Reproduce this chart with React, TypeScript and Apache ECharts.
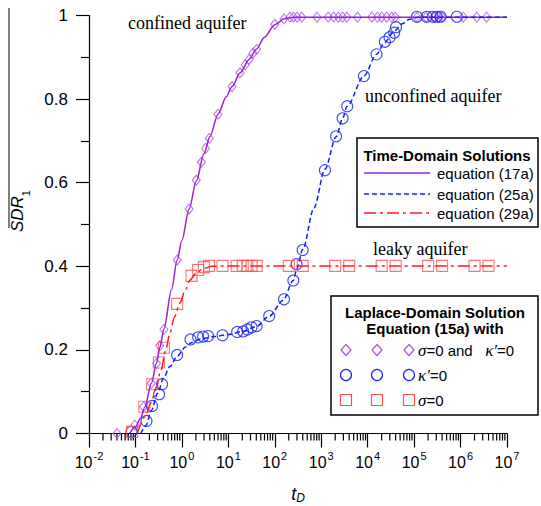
import React, { useEffect, useRef } from "react";
import * as echarts from "echarts";

// ---------- data (t_D, SDR1) ----------
const xExtent = [0.01, 1e7];
const yTicks = [0, 0.2, 0.4, 0.6, 0.8, 1];

// Time-domain solutions (curves)
const confinedLine: number[][] = [
  [0.075, 0], [0.1, 0.016], [0.13, 0.037], [0.158, 0.062], [0.22, 0.12], [0.284, 0.168],
  [0.334, 0.205], [0.41, 0.25], [0.6, 0.345], [0.79, 0.415], [1.0, 0.462], [1.43, 0.537],
  [2.04, 0.604], [3.0, 0.67], [4.0, 0.71], [6.0, 0.764], [9, 0.805], [12, 0.83], [18, 0.863],
  [28, 0.895], [40, 0.919], [60, 0.948], [100, 0.978], [160, 0.992], [250, 0.996], [1e7, 0.996],
];
const unconfinedLine: number[][] = [
  [0.13, 0], [0.17, 0.02], [0.22, 0.055], [0.3, 0.096], [0.4, 0.132], [0.55, 0.16], [0.79, 0.185],
  [1.2, 0.207], [1.6, 0.217], [2.5, 0.226], [5, 0.232], [10, 0.237], [20, 0.244], [40, 0.256],
  [75, 0.28], [150, 0.318], [250, 0.366], [300, 0.395], [400, 0.44], [700, 0.54], [1200, 0.632],
  [2100, 0.71], [2900, 0.754], [3600, 0.783], [8300, 0.855], [15500, 0.907], [23000, 0.935],
  [37000, 0.962], [55000, 0.98], [80000, 0.991], [120000, 0.996], [1e7, 0.996],
];
const leakyLine: number[][] = [
  [0.11, 0], [0.16, 0.04], [0.22, 0.075], [0.28, 0.11], [0.35, 0.15], [0.45, 0.2], [0.55, 0.24],
  [0.7, 0.28], [0.9, 0.312], [1.2, 0.345], [1.5, 0.367], [2, 0.383], [2.9, 0.395], [4.5, 0.4],
  [8, 0.401], [1e7, 0.401],
];

// Laplace-domain solution (markers)
const confinedPts: number[][] = [
  [0.04, 0.0], [0.097, 0.02], [0.15, 0.064], [0.22, 0.12], [0.284, 0.168], [0.334, 0.21],
  [0.41, 0.249], [0.79, 0.415], [1.43, 0.537], [2.04, 0.606], [2.63, 0.649], [3.24, 0.682],
  [3.89, 0.706], [6.0, 0.764], [12, 0.83], [17.8, 0.863], [23, 0.882], [28, 0.895], [34, 0.91],
  [40.7, 0.919], [100, 0.979], [158, 0.992], [214, 0.996], [251, 0.996], [302, 0.996],
  [380, 0.996], [813, 0.996], [1413, 0.996], [1862, 0.996], [2344, 0.996], [2884, 0.996],
  [3548, 0.996], [6026, 0.996], [12303, 0.996], [16218, 0.996], [19953, 0.996], [25704, 0.996],
  [33113, 0.996], [38905, 0.996], [114815, 0.996], [181970, 0.996], [263027, 0.996],
  [331131, 0.996], [398107, 0.996], [1148154, 0.996], [2238721, 0.996], [3630781, 0.996],
];
const unconfinedPts: number[][] = [
  [0.082, 0.004], [0.173, 0.03], [0.228, 0.066], [0.323, 0.094], [0.374, 0.118], [0.79, 0.188],
  [1.53, 0.225], [2.24, 0.23], [2.86, 0.232], [3.67, 0.233], [7.5, 0.235], [15.5, 0.243],
  [20.9, 0.244], [25.7, 0.249], [31.6, 0.254], [40.7, 0.257], [75.9, 0.281], [158, 0.321],
  [251, 0.366], [295, 0.405], [398, 0.439], [1202, 0.63], [2089, 0.711], [2884, 0.754],
  [3631, 0.783], [8318, 0.855], [15488, 0.907], [23442, 0.937], [29512, 0.948], [37154, 0.959],
  [40738, 0.972], [114815, 0.997], [186209, 0.997], [251189, 0.997], [309030, 0.997],
  [371535, 0.997], [831764, 0.997],
];
const leakyPts: number[][] = [
  [0.085, 0.004], [0.155, 0.064], [0.23, 0.118], [0.32, 0.17], [0.41, 0.205], [0.79, 0.31],
  [1.61, 0.377], [2.24, 0.391], [2.97, 0.398], [3.85, 0.401], [7.5, 0.401], [15.1, 0.401],
  [20.4, 0.401], [25.7, 0.401], [31.6, 0.401], [40.7, 0.401], [200, 0.401], [400, 0.401],
  [2000, 0.401], [4000, 0.401], [20000, 0.401], [40000, 0.401], [200000, 0.401],
  [400000, 0.401], [2000000, 0.401], [4000000, 0.401],
];

const legend1Labels = ["equation (17a)", "equation (25a)", "equation (29a)"];

// ---------- styling ----------
const PURPLE = "#9A1FD6";
const PURPLE_M = "#B050E8";
const BLUE = "#1020F5";
const RED = "#FF1A1A";
const RED_M = "#FF5050";
const SANS = '"Liberation Sans", Arial, sans-serif';
const SERIF = '"Liberation Serif", "Times New Roman", serif';

const minorTicks: number[][] = [];
for (let e = -2; e < 7; e++) {
  for (let m = 2; m <= 9; m++) minorTicks.push([m * Math.pow(10, e), 0]);
}

export default function App() {
  const ref = useRef<HTMLDivElement>(null);

  useEffect(() => {
    if (!ref.current) return;
    const chart = echarts.init(ref.current, undefined, { renderer: "svg" });

    const hollow = (c: string) => ({ color: "rgba(255,255,255,0)", borderColor: c, borderWidth: 1.1 });

    const legendText = (x: number, y: number, text: string, extra: any = {}) => ({
      type: "text",
      x,
      y,
      style: { text, font: `15px ${SANS}`, fill: "#000", align: "left", verticalAlign: "middle", ...extra },
    });

    const diamond = (cx: number, cy: number) => ({
      type: "polygon",
      shape: { points: [[cx, cy - 5.5], [cx + 5, cy], [cx, cy + 5.5], [cx - 5, cy]] },
      style: { fill: "none", stroke: PURPLE_M, lineWidth: 1.2 },
    });
    const circ = (cx: number, cy: number) => ({
      type: "circle",
      shape: { cx, cy, r: 5.5 },
      style: { fill: "none", stroke: BLUE, lineWidth: 1.2 },
    });
    const sq = (cx: number, cy: number) => ({
      type: "rect",
      shape: { x: cx - 5.5, y: cy - 5.5, width: 11, height: 11 },
      style: { fill: "none", stroke: RED_M, lineWidth: 1.2 },
    });

    const rowXs = [346, 377, 409];
    const richRow = {
      i: { fontFamily: SERIF, fontStyle: "italic", fontSize: 17, fill: "#000" },
      n: { fontFamily: SANS, fontSize: 15, fill: "#000" },
    };

    chart.setOption({
      animation: false,
      backgroundColor: "#fff",
      grid: { left: 89, right: 34, top: 15.5, bottom: 72.5, containLabel: false, outerBoundsMode: "none" },
      xAxis: {
        type: "log",
        logBase: 10,
        min: xExtent[0],
        max: xExtent[1],
        splitNumber: 9,
        name: "{t|t}{d|D}",
        nameLocation: "middle",
        nameGap: 51,
        nameTextStyle: {
          rich: {
            t: { fontFamily: SANS, fontStyle: "italic", fontSize: 18, color: "#000", lineHeight: 19, verticalAlign: "top" },
            d: { fontFamily: SANS, fontStyle: "italic", fontSize: 12, color: "#000", lineHeight: 19, verticalAlign: "bottom" },
          },
        },
        axisLine: { show: true, lineStyle: { color: "#000", width: 1.2 } },
        axisTick: { show: true, inside: false, length: 14, lineStyle: { color: "#000", width: 1.2 } },
        minorTick: { show: false },
        splitLine: { show: false },
        axisLabel: {
          margin: 17,
          formatter: (v: number) => `{b|10}{s|${Math.round(Math.log10(v))}}`,
          rich: {
            b: { fontFamily: SANS, fontSize: 16, color: "#000", lineHeight: 20, verticalAlign: "bottom" },
            s: { fontFamily: SANS, fontSize: 11, color: "#000", lineHeight: 20, verticalAlign: "top", padding: [0, 0, 0, 1] },
          },
        },
      },
      yAxis: {
        type: "value",
        min: 0,
        max: 1,
        interval: 0.2,
        axisLine: { show: true, lineStyle: { color: "#000", width: 1.2 } },
        axisTick: { show: true, inside: false, length: 13, lineStyle: { color: "#000", width: 1.2 } },
        minorTick: { show: true, splitNumber: 2, length: 8, lineStyle: { color: "#000", width: 1.2 } },
        splitLine: { show: false },
        axisLabel: {
          margin: 21,
          fontFamily: SANS,
          fontSize: 17,
          color: "#000",
          formatter: (v: number) => (yTicks.includes(v) && (v === 0 || v === 1) ? String(v) : v.toFixed(1)),
        },
      },
      series: [
        {
          type: "custom",
          silent: true,
          clip: false,
          data: minorTicks,
          renderItem: (_p: any, api: any) => {
            const pt = api.coord([api.value(0), 0]);
            return {
              type: "line",
              shape: { x1: pt[0], y1: pt[1], x2: pt[0], y2: pt[1] + 7 },
              style: { stroke: "#000", lineWidth: 1.2 },
            };
          },
          z: 1,
        },
        { type: "scatter", data: confinedPts, symbol: "diamond", symbolSize: [8, 10], itemStyle: hollow(PURPLE_M), z: 2 },
        { type: "scatter", data: unconfinedPts, symbol: "circle", symbolSize: 11, itemStyle: hollow(BLUE), z: 2 },
        { type: "scatter", data: leakyPts, symbol: "rect", symbolSize: 11, itemStyle: hollow(RED_M), z: 2 },
        {
          type: "line", data: confinedLine, showSymbol: false, symbol: "none", smooth: 0.3, smoothMonotone: "x",
          lineStyle: { color: PURPLE, width: 1.5 }, z: 3,
        },
        {
          type: "line", data: unconfinedLine, showSymbol: false, symbol: "none", smooth: 0.3, smoothMonotone: "x",
          lineStyle: { color: BLUE, width: 1.5, type: [5, 3] }, z: 3,
        },
        {
          type: "line", data: leakyLine, showSymbol: false, symbol: "none", smooth: 0.3, smoothMonotone: "x",
          lineStyle: { color: RED, width: 1.5, type: [12, 4, 3, 4] }, z: 3,
        },
      ],
      graphic: [
        // y-axis title with overline
        { type: "line", shape: { x1: 9, y1: 8, x2: 9, y2: 228 }, style: { stroke: "#000", lineWidth: 1 } },
        {
          type: "text",
          x: 20,
          y: 211,
          rotation: Math.PI / 2,
          style: {
            text: "{m|SDR}{s|1}",
            align: "center",
            verticalAlign: "middle",
            rich: {
              m: { fontFamily: SANS, fontStyle: "italic", fontSize: 17, fill: "#000", lineHeight: 22, verticalAlign: "top" },
              s: { fontFamily: SANS, fontSize: 11, fill: "#000", lineHeight: 22, verticalAlign: "bottom" },
            },
          },
        },
        // annotations
        { type: "text", x: 128, y: 23, style: { text: "confined aquifer", font: `18px ${SERIF}`, fill: "#000", align: "left", verticalAlign: "middle" } },
        { type: "text", x: 365, y: 96, style: { text: "unconfined aquifer", font: `18px ${SERIF}`, fill: "#000", align: "left", verticalAlign: "middle" } },
        { type: "text", x: 373, y: 249, style: { text: "leaky aquifer", font: `18px ${SERIF}`, fill: "#000", align: "left", verticalAlign: "middle" } },
        // legend 1
        { type: "rect", shape: { x: 357, y: 138, width: 181, height: 89 }, style: { fill: "#fff", stroke: "#000", lineWidth: 1.5 }, z: 10 },
        { ...legendText(447, 155, "Time-Domain Solutions", { font: `bold 15px ${SANS}`, align: "center" }), z: 11 },
        { type: "line", shape: { x1: 364, y1: 173, x2: 430, y2: 173 }, style: { stroke: PURPLE, lineWidth: 1.5 }, z: 11 },
        { type: "line", shape: { x1: 364, y1: 194, x2: 430, y2: 194 }, style: { stroke: BLUE, lineWidth: 1.5, lineDash: [5, 3] }, z: 11 },
        { type: "line", shape: { x1: 364, y1: 213, x2: 430, y2: 213 }, style: { stroke: RED, lineWidth: 1.5, lineDash: [12, 4, 3, 4] }, z: 11 },
        { ...legendText(437, 173, legend1Labels[0]), z: 11 },
        { ...legendText(437, 194, legend1Labels[1]), z: 11 },
        { ...legendText(437, 213, legend1Labels[2]), z: 11 },
        // legend 2
        { type: "rect", shape: { x: 331, y: 296, width: 207, height: 119 }, style: { fill: "#fff", stroke: "#000", lineWidth: 1.5 }, z: 10 },
        { ...legendText(435, 312, "Laplace-Domain Solution", { font: `bold 15px ${SANS}`, align: "center" }), z: 11 },
        { ...legendText(435, 328, "Equation (15a) with", { font: `bold 15px ${SANS}`, align: "center" }), z: 11 },
        ...rowXs.map((x) => ({ ...diamond(x, 350), z: 11 })),
        ...rowXs.map((x) => ({ ...circ(x, 375), z: 11 })),
        ...rowXs.map((x) => ({ ...sq(x, 400), z: 11 })),
        {
          type: "text", x: 418, y: 350, z: 11,
          style: { text: "{i|σ}{n|=0 and   }{i|κ′}{n|=0}", align: "left", verticalAlign: "middle", rich: richRow },
        },
        {
          type: "text", x: 418, y: 375, z: 11,
          style: { text: "{i|κ′}{n|=0}", align: "left", verticalAlign: "middle", rich: richRow },
        },
        {
          type: "text", x: 418, y: 400, z: 11,
          style: { text: "{i|σ}{n|=0}", align: "left", verticalAlign: "middle", rich: richRow },
        },
      ],
    });

    return () => chart.dispose();
  }, []);

  return (
    <div
      ref={ref}
      style={{ position: "fixed", left: 0, top: 0, width: 541, height: 506, background: "#fff" }}
    />
  );
}
